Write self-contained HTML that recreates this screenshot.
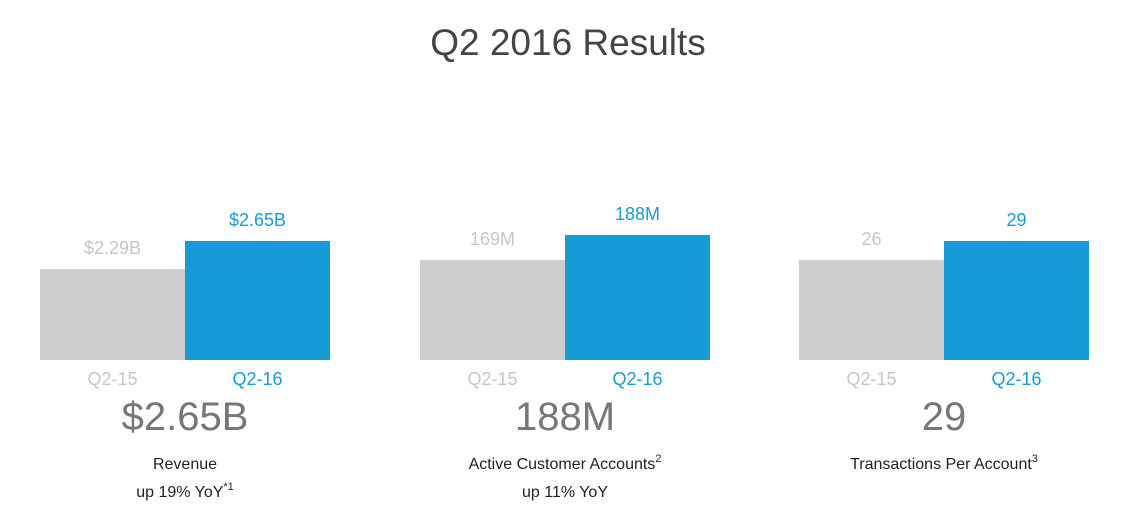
<!DOCTYPE html>
<html><head><meta charset="utf-8">
<style>
body{margin:0;width:1123px;height:529px;background:#fff;font-family:"Liberation Sans",sans-serif;overflow:hidden;position:relative}
.t{position:absolute;white-space:nowrap;text-align:center;transform:translateX(-50%)}
</style></head>
<body>
<div class="t" style="left:568px;top:22px;font-size:37px;color:#444">Q2 2016 Results</div>
<div id="root"></div>
<script>
const categories = ["Q2-15","Q2-16"];
const revenueValues = [2.29, 2.65];
const accountValues = [169, 188];
const txnValues = [26, 29];
const valueLabels = [["$2.29B","$2.65B"],["169M","188M"],["26","29"]];
const bigLabels = ["$2.65B","188M","29"];
const captions = [["Revenue","up 19% YoY<sup>*1</sup>"],["Active Customer Accounts<sup>2</sup>","up 11% YoY"],["Transactions Per Account<sup>3</sup>",""]];
const domains = [[1.12,2.65],[93,188],[10.2,29]];
const series = [revenueValues, accountValues, txnValues];
const names = ["revenue","accounts","transactions"];
const panelX = [40, 420, 799];
const maxH = [119, 125, 119];
const baseY = 360, barW = 145;
const root = document.getElementById('root');
function add(html){root.insertAdjacentHTML('beforeend', html);}
series.forEach((vals, p) => {
  const d = domains[p];
  const y = v => baseY - (v - d[0]) / (d[1] - d[0]) * maxH[p];
  vals.forEach((v, i) => {
    const x = panelX[p] + i * barW;
    const top = y(v);
    const col = i ? '#169bd7' : '#cfcdce';
    const tcol = i ? '#169bd7' : '#c6c6c6';
    const el = document.createElement('div');
    el.style.cssText = `position:absolute;left:${x}px;top:${top}px;width:${barW}px;height:${baseY-top}px;background:${col}`;
    
    
    root.appendChild(el);
    const vl = document.createElement('div');
    vl.className = 't';
    vl.style.cssText = `left:${x+barW/2}px;top:${top-31}px;font-size:18px;color:${tcol}`;
    vl.textContent = valueLabels[p][i];
    
    
    root.appendChild(vl);
    const cl = document.createElement('div');
    cl.className = 't';
    cl.style.cssText = `left:${x+barW/2}px;top:369px;font-size:18px;color:${tcol}`;
    cl.textContent = categories[i];
    
    
    root.appendChild(cl);
  });
  const cx = panelX[p] + barW;
  const big = document.createElement('div');
  big.className = 't';
  big.style.cssText = `left:${cx}px;top:395px;font-size:40px;color:#777`;
  big.textContent = bigLabels[p];
  
  
  root.appendChild(big);
  const cap = document.createElement('div');
  cap.className = 't';
  cap.style.cssText = `left:${cx}px;top:451px;font-size:16px;line-height:28px;color:#222`;
  cap.innerHTML = captions[p][0] + '<br>' + captions[p][1];
  
  
  root.appendChild(cap);
});
</script>
<style>sup{font-size:11px;vertical-align:7px;line-height:0}</style>
</body></html>
